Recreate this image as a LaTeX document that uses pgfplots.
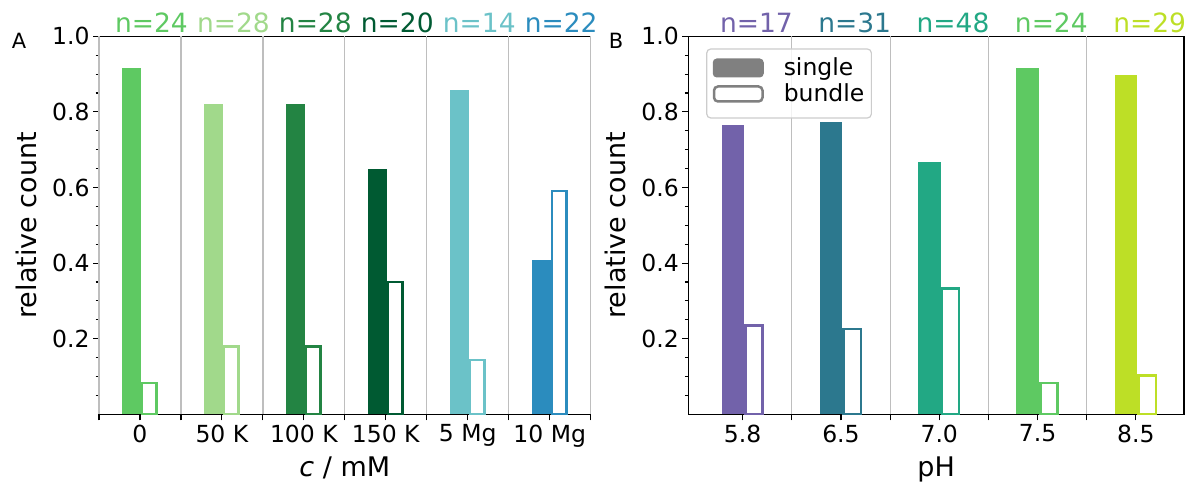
\documentclass[border=0pt]{standalone}
\usepackage{fontspec}
\setmainfont{DejaVu Sans}
\usepackage{pgfplots}
\pgfplotsset{compat=1.18}

\definecolor{cA0}{HTML}{5EC962}
\definecolor{cA1}{HTML}{A1D98B}
\definecolor{cA2}{HTML}{238443}
\definecolor{cA3}{HTML}{005A32}
\definecolor{cA4}{HTML}{6BC2C8}
\definecolor{cA5}{HTML}{2B8CBE}
\definecolor{cB0}{HTML}{7262AA}
\definecolor{cB1}{HTML}{2C788E}
\definecolor{cB2}{HTML}{22A884}
\definecolor{cB3}{HTML}{5EC962}
\definecolor{cB4}{HTML}{BDDF26}
\definecolor{gridc}{RGB}{190,190,190}
\definecolor{legc}{RGB}{128,128,128}

\tikzset{
  nlab/.style={anchor=base, yshift=4pt, text=#1, font=\fontsize{26.5}{31}\selectfont},
}
\pgfplotsset{
  panel/.style={
    scale only axis, height=378pt, ymin=0, ymax=1,
    clip mode=individual,
    axis line style={line width=1.3pt, black},
    tick align=outside,
    xtick pos=lower, ytick pos=left,
    every tick/.style={black, line width=1.1pt},
    major tick length=6pt, minor tick length=3.5pt,
    ytick={0.2,0.4,0.6,0.8,1.0},
    minor ytick={0.05,0.1,0.15,0.25,0.3,0.35,0.45,0.5,0.55,0.65,0.7,0.75,0.85,0.9,0.95},
    yticklabel style={/pgf/number format/fixed, /pgf/number format/fixed zerofill, /pgf/number format/precision=1},
    /pgf/number format/assume math mode=true,
    tick label style={font=\fontsize{23.5}{28}\selectfont},
    label style={font=\fontsize{27}{32}\selectfont},
    extra x tick labels={},
    extra x tick style={grid=major, major grid style={gridc, line width=1.2pt}},
    x tick label style={yshift=-1pt},
  },
  single/.style={ybar, bar width=0.23, bar shift=-0.1, fill=#1, draw=none},
  bundle/.style={ybar, bar width=0.175, bar shift=0.115, fill=white, draw=#1, line width=2.5pt},
}

\begin{document}
\begin{tikzpicture}
\path[use as bounding box] (0,0) rectangle (1190pt,485pt);

% ---------------- Panel A ----------------
\begin{axis}[panel,
  at={(99pt,70.7pt)}, anchor=south west,
  width=491.7pt,
  xmin=-0.5, xmax=5.5,
  xtick={0,1,2,3,4,5},
  xticklabels={0,50 K,100 K,150 K,5 Mg,10 Mg},
  extra x ticks={-0.5,0.5,1.5,2.5,3.5,4.5,5.5},
  xlabel={\textit{c} / mM},
  ylabel={relative count},
  xlabel style={at={(axis description cs:0.5,0)}, anchor=base, yshift=-62pt},
  ylabel style={at={(axis description cs:-0.127,0.5)}, anchor=base, rotate=0},
]
\addplot[single=cA0] coordinates {(0,0.917)};
\addplot[bundle=cA0] coordinates {(0,0.083)};
\addplot[single=cA1] coordinates {(1,0.821)};
\addplot[bundle=cA1] coordinates {(1,0.179)};
\addplot[single=cA2] coordinates {(2,0.821)};
\addplot[bundle=cA2] coordinates {(2,0.179)};
\addplot[single=cA3] coordinates {(3,0.650)};
\addplot[bundle=cA3] coordinates {(3,0.350)};
\addplot[single=cA4] coordinates {(4,0.857)};
\addplot[bundle=cA4] coordinates {(4,0.143)};
\addplot[single=cA5] coordinates {(5,0.409)};
\addplot[bundle=cA5] coordinates {(5,0.591)};

\node[nlab=cA0] at (axis cs:0.14,1) {n=24};
\node[nlab=cA1] at (axis cs:1.14,1) {n=28};
\node[nlab=cA2] at (axis cs:2.14,1) {n=28};
\node[nlab=cA3] at (axis cs:3.14,1) {n=20};
\node[nlab=cA4] at (axis cs:4.14,1) {n=14};
\node[nlab=cA5] at (axis cs:5.14,1) {n=22};
\node[anchor=base, yshift=-12pt, font=\fontsize{21}{25}\selectfont] at (rel axis cs:-0.1627,1) {A};
\end{axis}

% ---------------- Panel B ----------------
\begin{axis}[panel,
  at={(688.3pt,70.7pt)}, anchor=south west,
  width=495.7pt,
  xmin=-0.553, xmax=4.49,
  xtick={0,1,2,3,4},
  xticklabels={5.8,6.5,7.0,7.5,8.5},
  extra x ticks={0.5,1.5,2.5,3.5},
  xlabel={pH},
  ylabel={relative count},
  xlabel style={at={(axis description cs:0.5,0)}, anchor=base, yshift=-62pt},
  ylabel style={at={(axis description cs:-0.126,0.5)}, anchor=base, rotate=0},
  legend style={at={(rel axis cs:0.036,0.968)}, anchor=north west,
    draw=black!20, fill=white, fill opacity=0.8, draw opacity=1, text opacity=1,
    rounded corners=4pt, line width=1.2pt,
    font=\fontsize{23.5}{28}\selectfont, inner xsep=6pt, inner ysep=9pt,
    nodes={inner sep=1pt, text height=17pt, text depth=6pt},
    row sep=1pt},
  legend cell align=left,
]
\addlegendimage{draw=none, legend image code/.code={\fill[legc, fill opacity=1] (0pt,-7pt) rectangle (51pt,12pt); \path[draw=none] (0pt,0pt) -- (70pt,0pt);}}
\addlegendentry{single}
\addlegendimage{draw=none, legend image code/.code={\draw[legc, line width=2.5pt, draw opacity=1] (1.25pt,-5pt) rectangle (49.75pt,10pt); \path[draw=none] (0pt,0pt) -- (70pt,0pt);}}
\addlegendentry{bundle}

\addplot[single=cB0] coordinates {(0,0.765)};
\addplot[bundle=cB0] coordinates {(0,0.235)};
\addplot[single=cB1] coordinates {(1,0.774)};
\addplot[bundle=cB1] coordinates {(1,0.226)};
\addplot[single=cB2] coordinates {(2,0.667)};
\addplot[bundle=cB2] coordinates {(2,0.333)};
\addplot[single=cB3] coordinates {(3,0.917)};
\addplot[bundle=cB3] coordinates {(3,0.083)};
\addplot[single=cB4] coordinates {(4,0.897)};
\addplot[bundle=cB4] coordinates {(4,0.103)};

\node[nlab=cB0] at (axis cs:0.14,1) {n=17};
\node[nlab=cB1] at (axis cs:1.14,1) {n=31};
\node[nlab=cB2] at (axis cs:2.14,1) {n=48};
\node[nlab=cB3] at (axis cs:3.14,1) {n=24};
\node[nlab=cB4] at (axis cs:4.14,1) {n=29};
\node[anchor=base, yshift=-12pt, font=\fontsize{21}{25}\selectfont] at (rel axis cs:-0.1459,1) {B};
\end{axis}
\end{tikzpicture}
\end{document}
